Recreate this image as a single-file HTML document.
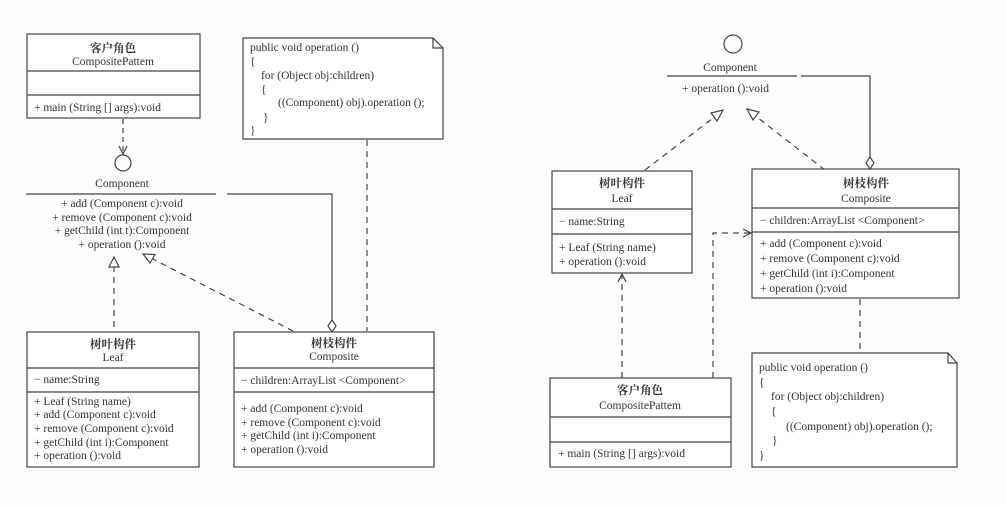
<!DOCTYPE html>
<html><head><meta charset="utf-8"><style>
html,body{margin:0;padding:0;background:#fdfdfd;}
svg{display:block;}
text{font-family:"Liberation Serif","Noto Serif CJK SC","Noto Sans CJK SC",serif;font-size:11.5px;fill:#333;}
.t{font-family:"Liberation Serif","Noto Serif CJK SC","Noto Sans CJK SC",serif;font-weight:bold;font-size:11.5px;}
</style></head><body>
<svg width="1006" height="505" viewBox="0 0 1006 505" xmlns="http://www.w3.org/2000/svg">
<rect x="0" y="0" width="1006" height="505" fill="#fdfdfd"/>
<g stroke="#444" stroke-width="1.2" fill="none">
<!-- LEFT: client box -->
<rect x="27" y="34" width="173" height="84" fill="#fff"/>
<line x1="27" y1="71" x2="200" y2="71"/>
<line x1="27" y1="95" x2="200" y2="95"/>
<!-- client dashed to interface circle -->
<line x1="123" y1="119" x2="123" y2="153" stroke-dasharray="5,4"/>
<polyline points="119,146 123,154 127,146"/>
<circle cx="123" cy="163" r="8"/>
<!-- component lines -->
<line x1="26" y1="194" x2="216" y2="194"/>
<polyline points="227,194 332,194 332,320"/>
<polygon points="332,320 336,326 332,332 328,326" fill="#fff"/>
<!-- note left -->
<polygon points="243,38 433,38 443,48 443,139 243,139" fill="#fff"/>
<polyline points="433,38 433,48 443,48"/>
<line x1="367" y1="140" x2="367" y2="331" stroke-dasharray="6,5"/>
<!-- leaf realization -->
<line x1="114" y1="266" x2="114" y2="332" stroke-dasharray="6,5"/>
<polygon points="114,257 109,267 119,267" fill="#fff"/>
<!-- composite realization -->
<line x1="151" y1="258" x2="293" y2="331" stroke-dasharray="6,5"/>
<polygon points="143,254 155,254.5 150,263" fill="#fff"/>
<!-- leaf box -->
<rect x="27" y="332" width="172" height="135" fill="#fff"/>
<line x1="27" y1="368" x2="199" y2="368"/>
<line x1="27" y1="392" x2="199" y2="392"/>
<!-- composite box -->
<rect x="234" y="332" width="200" height="135" fill="#fff"/>
<line x1="234" y1="368" x2="434" y2="368"/>
<line x1="234" y1="392" x2="434" y2="392"/>

<!-- RIGHT -->
<circle cx="733" cy="44" r="9"/>
<line x1="667" y1="76" x2="797" y2="76"/>
<polyline points="801,76 870,76 870,157"/>
<polygon points="870,157 874,163 870,169 866,163" fill="#fff"/>
<!-- leaf realization right -->
<line x1="645" y1="170" x2="717" y2="115" stroke-dasharray="6,5"/>
<polygon points="723,110 711,113 717,121" fill="#fff"/>
<!-- composite realization right -->
<line x1="825" y1="170" x2="753" y2="114" stroke-dasharray="6,5"/>
<polygon points="747,109 759,112 753,120" fill="#fff"/>
<!-- leaf box right -->
<rect x="552" y="171" width="140" height="102" fill="#fff"/>
<line x1="552" y1="209" x2="692" y2="209"/>
<line x1="552" y1="234" x2="692" y2="234"/>
<!-- composite box right -->
<rect x="752" y="169" width="207" height="129" fill="#fff"/>
<line x1="752" y1="208" x2="959" y2="208"/>
<line x1="752" y1="232" x2="959" y2="232"/>
<!-- client to leaf -->
<line x1="622" y1="378" x2="622" y2="275" stroke-dasharray="6,5"/>
<polyline points="618,282 622,274 626,282"/>
<!-- client to composite -->
<polyline points="713,378 713,233 750,233" stroke-dasharray="6,5"/>
<polyline points="743,229 751,233 743,237"/>
<!-- composite to note -->
<line x1="860" y1="299" x2="860" y2="353" stroke-dasharray="6,5"/>
<!-- client box right -->
<rect x="550" y="378" width="181" height="89" fill="#fff"/>
<line x1="550" y1="417" x2="731" y2="417"/>
<line x1="550" y1="442" x2="731" y2="442"/>
<!-- note right -->
<polygon points="752,353 948,353 957,363 957,467 752,467" fill="#fff"/>
<polyline points="948,353 948,363 957,363"/>
</g>

<!-- LEFT TEXT -->
<text x="113" y="52" text-anchor="middle" class="t">客户角色</text>
<text x="113" y="65" text-anchor="middle">CompositePattem</text>
<text x="34" y="111">+ main (String [] args):void</text>

<text x="250" y="51">public void operation ()</text>
<text x="250" y="65">{</text>
<text x="261" y="79">for (Object obj:children)</text>
<text x="261" y="93">{</text>
<text x="278" y="106">((Component) obj).operation ();</text>
<text x="263" y="121">}</text>
<text x="250" y="134">}</text>

<text x="122" y="187" text-anchor="middle">Component</text>
<text x="122" y="207" text-anchor="middle">+ add (Component c):void</text>
<text x="122" y="221" text-anchor="middle">+ remove (Component c):void</text>
<text x="122" y="234" text-anchor="middle">+ getChild (int t):Component</text>
<text x="122" y="248" text-anchor="middle">+ operation ():void</text>

<text x="113" y="348" text-anchor="middle" class="t">树叶构件</text>
<text x="113" y="361" text-anchor="middle">Leaf</text>
<text x="34" y="383">− name:String</text>
<text x="34" y="405">+ Leaf (String name)</text>
<text x="34" y="418">+ add (Component c):void</text>
<text x="34" y="432">+ remove (Component c):void</text>
<text x="34" y="446">+ getChild (int i):Component</text>
<text x="34" y="459">+ operation ():void</text>

<text x="334" y="347" text-anchor="middle" class="t">树枝构件</text>
<text x="334" y="360" text-anchor="middle">Composite</text>
<text x="241" y="384">− children:ArrayList &lt;Component&gt;</text>
<text x="241" y="412">+ add (Component c):void</text>
<text x="241" y="426">+ remove (Component c):void</text>
<text x="241" y="439">+ getChild (int i):Component</text>
<text x="241" y="453">+ operation ():void</text>

<!-- RIGHT TEXT -->
<text x="730" y="71" text-anchor="middle">Component</text>
<text x="682" y="92">+ operation ():void</text>

<text x="622" y="187" text-anchor="middle" class="t">树叶构件</text>
<text x="622" y="202" text-anchor="middle">Leaf</text>
<text x="559" y="225">− name:String</text>
<text x="559" y="251">+ Leaf (String name)</text>
<text x="559" y="265">+ operation ():void</text>

<text x="866" y="187" text-anchor="middle" class="t">树枝构件</text>
<text x="866" y="202" text-anchor="middle">Composite</text>
<text x="760" y="224">− children:ArrayList &lt;Component&gt;</text>
<text x="760" y="247">+ add (Component c):void</text>
<text x="760" y="262">+ remove (Component c):void</text>
<text x="760" y="277">+ getChild (int i):Component</text>
<text x="760" y="292">+ operation ():void</text>

<text x="640" y="394" text-anchor="middle" class="t">客户角色</text>
<text x="640" y="409" text-anchor="middle">CompositePattem</text>
<text x="558" y="457">+ main (String [] args):void</text>

<text x="759" y="371">public void operation ()</text>
<text x="759" y="386">{</text>
<text x="771" y="400">for (Object obj:children)</text>
<text x="771" y="415">{</text>
<text x="786" y="430">((Component) obj).operation ();</text>
<text x="772" y="444">}</text>
<text x="759" y="459">}</text>
</svg>
</body></html>
